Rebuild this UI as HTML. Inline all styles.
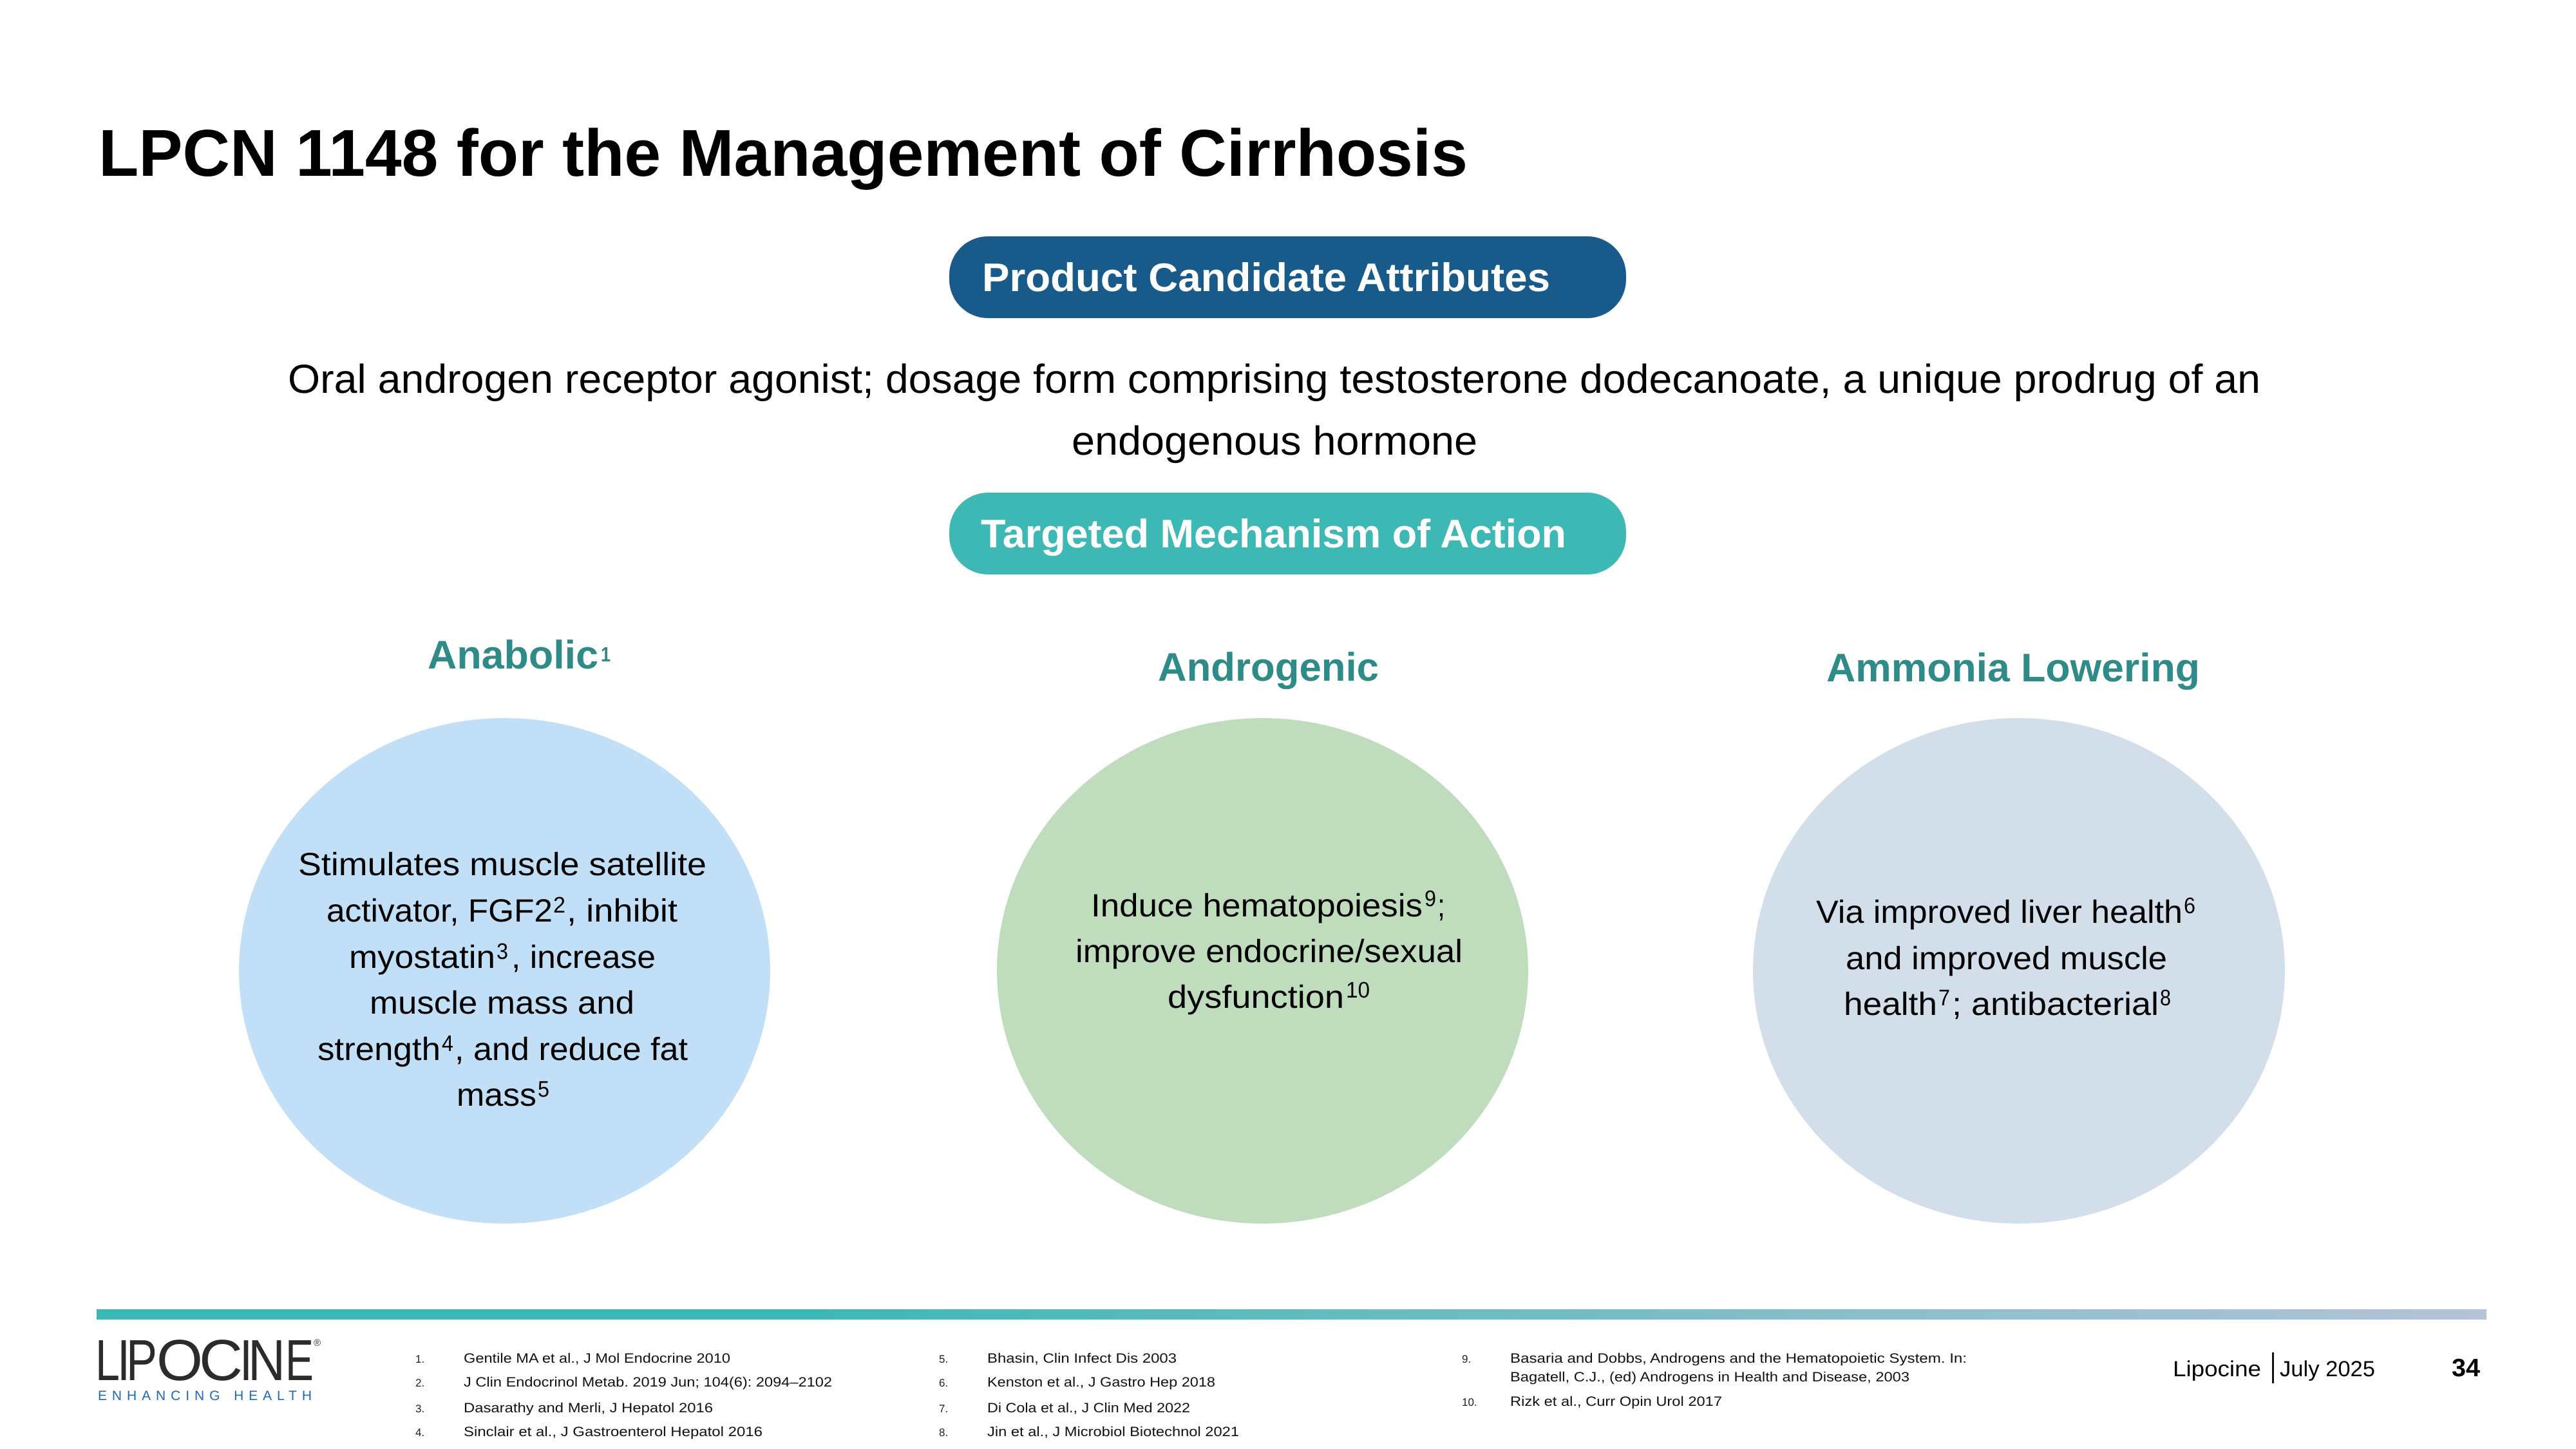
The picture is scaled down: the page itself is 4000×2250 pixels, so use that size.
<!DOCTYPE html>
<html><head><meta charset="utf-8"><title>LPCN 1148 for the Management of Cirrhosis</title>
<style>
html,body{margin:0;padding:0;background:#fff;width:4000px;height:2250px;overflow:hidden}
svg{display:block}
text{font-family:"Liberation Sans",Arial,sans-serif;fill:#000;text-rendering:geometricPrecision}
.b{font-weight:bold}
.h{font-weight:bold;font-size:62px;fill:#2e8b87}
.c{font-size:50px}
.s{font-size:35px}
.f{font-size:21px;fill:#111}
.n{font-size:17px;fill:#222}
</style></head><body>
<svg xmlns="http://www.w3.org/2000/svg" width="4000" height="2250" viewBox="0 0 4000 2250">
<defs><linearGradient id="g" x1="0" x2="1" y1="0" y2="0"><stop offset="0" stop-color="#3eb8b5"/><stop offset=".3" stop-color="#3eb8b5"/><stop offset="1" stop-color="#b4c3d8"/></linearGradient></defs>
<rect width="4000" height="2250" fill="#fff"/>
<text class="b" x="153" y="273" font-size="103" textLength="2126" lengthAdjust="spacingAndGlyphs">LPCN 1148 for the Management of Cirrhosis</text>
<rect x="1474" y="367" width="1051" height="127" rx="60" fill="#185b8b"/>
<text class="b" x="1525" y="452" font-size="62" style="fill:#fff" textLength="882" lengthAdjust="spacingAndGlyphs">Product Candidate Attributes</text>
<text x="447" y="610" font-size="63" textLength="3063" lengthAdjust="spacingAndGlyphs">Oral androgen receptor agonist; dosage form comprising testosterone dodecanoate, a unique prodrug of an</text>
<text x="1664" y="706" font-size="63" textLength="630" lengthAdjust="spacingAndGlyphs">endogenous hormone</text>
<rect x="1474" y="765" width="1051" height="127" rx="60" fill="#3eb8b5"/>
<text class="b" x="1523" y="850" font-size="62" style="fill:#fff" textLength="909" lengthAdjust="spacingAndGlyphs">Targeted Mechanism of Action</text>

<text class="h" x="664" y="1038" textLength="265" lengthAdjust="spacingAndGlyphs">Anabolic</text>
<text class="b" x="933" y="1027" font-size="32" style="fill:#2e8b87" textLength="15" lengthAdjust="spacingAndGlyphs">1</text>
<text class="h" x="1798" y="1057" textLength="343" lengthAdjust="spacingAndGlyphs">Androgenic</text>
<text class="h" x="2836" y="1058" textLength="580" lengthAdjust="spacingAndGlyphs">Ammonia Lowering</text>

<ellipse cx="783.5" cy="1507.5" rx="412.5" ry="392.5" fill="#c1dff6"/>
<ellipse cx="1960.5" cy="1507.5" rx="412.5" ry="392.5" fill="#bfddbd"/>
<ellipse cx="3135" cy="1507.5" rx="413" ry="392.5" fill="#d2deea"/>

<text class="c" x="463" y="1359" textLength="634" lengthAdjust="spacingAndGlyphs">Stimulates muscle satellite</text>
<text class="c" x="507" y="1431" textLength="351" lengthAdjust="spacingAndGlyphs">activator, FGF2</text><text class="s" x="859" y="1417" textLength="19" lengthAdjust="spacingAndGlyphs">2</text><text class="c" x="880" y="1431" textLength="172" lengthAdjust="spacingAndGlyphs">, inhibit</text>
<text class="c" x="542" y="1503" textLength="227" lengthAdjust="spacingAndGlyphs">myostatin</text><text class="s" x="771" y="1489" textLength="18" lengthAdjust="spacingAndGlyphs">3</text><text class="c" x="794" y="1503" textLength="224" lengthAdjust="spacingAndGlyphs">, increase</text>
<text class="c" x="574" y="1574" textLength="411" lengthAdjust="spacingAndGlyphs">muscle mass and</text>
<text class="c" x="493" y="1646" textLength="191" lengthAdjust="spacingAndGlyphs">strength</text><text class="s" x="686" y="1632" textLength="18" lengthAdjust="spacingAndGlyphs">4</text><text class="c" x="706" y="1646" textLength="362" lengthAdjust="spacingAndGlyphs">, and reduce fat</text>
<text class="c" x="709" y="1717" textLength="124" lengthAdjust="spacingAndGlyphs">mass</text><text class="s" x="835" y="1703" textLength="18" lengthAdjust="spacingAndGlyphs">5</text>

<text class="c" x="1694" y="1423" textLength="515" lengthAdjust="spacingAndGlyphs">Induce hematopoiesis</text><text class="s" x="2212" y="1407" textLength="18" lengthAdjust="spacingAndGlyphs">9</text><text class="c" x="2232" y="1423" textLength="12" lengthAdjust="spacingAndGlyphs">;</text>
<text class="c" x="1670" y="1494" textLength="601" lengthAdjust="spacingAndGlyphs">improve endocrine/sexual</text>
<text class="c" x="1813" y="1565" textLength="274" lengthAdjust="spacingAndGlyphs">dysfunction</text><text class="s" x="2090" y="1549" textLength="37" lengthAdjust="spacingAndGlyphs">10</text>

<text class="c" x="2820" y="1433" textLength="569" lengthAdjust="spacingAndGlyphs">Via improved liver health</text><text class="s" x="3391" y="1418" textLength="18" lengthAdjust="spacingAndGlyphs">6</text>
<text class="c" x="2866" y="1505" textLength="499" lengthAdjust="spacingAndGlyphs">and improved muscle</text>
<text class="c" x="2863" y="1576" textLength="145" lengthAdjust="spacingAndGlyphs">health</text><text class="s" x="3010" y="1561" textLength="18" lengthAdjust="spacingAndGlyphs">7</text><text class="c" x="3031" y="1576" textLength="321" lengthAdjust="spacingAndGlyphs">; antibacterial</text><text class="s" x="3354" y="1561" textLength="17" lengthAdjust="spacingAndGlyphs">8</text>

<rect x="150" y="2033" width="3711" height="16" fill="url(#g)"/>

<text x="150" y="2143" font-size="90" style="fill:#2b2b2d"><tspan x="148" textLength="38" lengthAdjust="spacingAndGlyphs">L</tspan><tspan x="182" textLength="20" lengthAdjust="spacingAndGlyphs">I</tspan><tspan x="196" textLength="48" lengthAdjust="spacingAndGlyphs">P</tspan><tspan x="243" textLength="72" lengthAdjust="spacingAndGlyphs">O</tspan><tspan x="309" textLength="68" lengthAdjust="spacingAndGlyphs">C</tspan><tspan x="372" textLength="20" lengthAdjust="spacingAndGlyphs">I</tspan><tspan x="385" textLength="58" lengthAdjust="spacingAndGlyphs">N</tspan><tspan x="443" textLength="44" lengthAdjust="spacingAndGlyphs">E</tspan></text>
<text x="487" y="2090" font-size="15" style="fill:#333">®</text>
<text x="152" y="2174" font-size="21" style="fill:#1f69b3" textLength="332" lengthAdjust="spacing">ENHANCING HEALTH</text>

<text class="n" x="645" y="2116">1.</text><text class="f" x="720" y="2116" textLength="414" lengthAdjust="spacingAndGlyphs">Gentile MA et al., J Mol Endocrine 2010</text>
<text class="n" x="645" y="2153">2.</text><text class="f" x="720" y="2153" textLength="572" lengthAdjust="spacingAndGlyphs">J Clin Endocrinol Metab. 2019 Jun; 104(6): 2094–2102</text>
<text class="n" x="645" y="2193">3.</text><text class="f" x="720" y="2193" textLength="387" lengthAdjust="spacingAndGlyphs">Dasarathy and Merli, J Hepatol 2016</text>
<text class="n" x="645" y="2230">4.</text><text class="f" x="720" y="2230" textLength="464" lengthAdjust="spacingAndGlyphs">Sinclair et al., J Gastroenterol Hepatol 2016</text>

<text class="n" x="1458" y="2116">5.</text><text class="f" x="1533" y="2116" textLength="294" lengthAdjust="spacingAndGlyphs">Bhasin, Clin Infect Dis 2003</text>
<text class="n" x="1458" y="2153">6.</text><text class="f" x="1533" y="2153" textLength="354" lengthAdjust="spacingAndGlyphs">Kenston et al., J Gastro Hep 2018</text>
<text class="n" x="1458" y="2193">7.</text><text class="f" x="1533" y="2193" textLength="315" lengthAdjust="spacingAndGlyphs">Di Cola et al., J Clin Med 2022</text>
<text class="n" x="1458" y="2230">8.</text><text class="f" x="1533" y="2230" textLength="391" lengthAdjust="spacingAndGlyphs">Jin et al., J Microbiol Biotechnol 2021</text>

<text class="n" x="2270" y="2116">9.</text><text class="f" x="2345" y="2116" textLength="709" lengthAdjust="spacingAndGlyphs">Basaria and Dobbs, Androgens and the Hematopoietic System. In:</text>
<text class="f" x="2345" y="2145" textLength="620" lengthAdjust="spacingAndGlyphs">Bagatell, C.J., (ed) Androgens in Health and Disease, 2003</text>
<text class="n" x="2270" y="2183">10.</text><text class="f" x="2345" y="2183" textLength="329" lengthAdjust="spacingAndGlyphs">Rizk et al., Curr Opin Urol 2017</text>

<text x="3374" y="2137" font-size="34" textLength="137" lengthAdjust="spacingAndGlyphs">Lipocine</text>
<rect x="3528" y="2100" width="3" height="48" fill="#111"/>
<text x="3540" y="2137" font-size="34" textLength="148" lengthAdjust="spacingAndGlyphs">July 2025</text>
<text class="b" x="3807" y="2137" font-size="39" textLength="44" lengthAdjust="spacingAndGlyphs">34</text>
</svg>
</body></html>
